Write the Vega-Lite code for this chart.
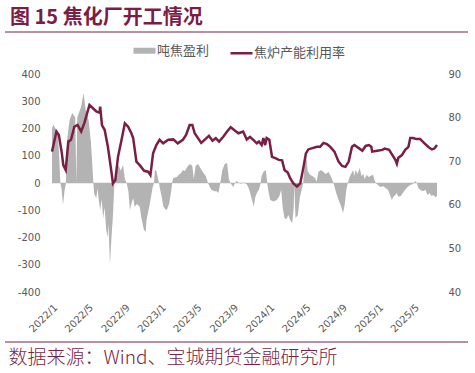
{
  "$schema": "https://vega.github.io/schema/vega-lite/v6.json",
  "autosize": {"type": "none"},
  "padding": {"left": 52, "top": 74, "right": 38, "bottom": 81},
  "width": 385,
  "height": 218,
  "background": "white",
  "config": {
    "view": {"stroke": null},
    "axisX": {"labelOverlap": false, "labelAngle": -45, "ticks": false, "tickSize": 0, "domain": false, "grid": false, "labelPadding": 10, "labelFont": "DejaVu Sans", "labelFontSize": 10, "labelColor": "#595959"},
    "axisY": {"labelOverlap": false, "ticks": false, "tickSize": 0, "domain": false, "grid": false, "labelFont": "DejaVu Sans", "labelFontSize": 10, "labelColor": "#595959"}
  },
  "title": {
    "text": "图 15 焦化厂开工情况",
    "anchor": "start",
    "frame": "group",
    "dx": -42,
    "dy": 20,
    "offset": 8,
    "font": "Noto Sans CJK SC",
    "fontSize": 20,
    "fontWeight": "bold",
    "color": "#7A1E45",
    "baseline": "alphabetic"
  },
  "datasets": {
    "profit": [
      {"d":"2022/01/01","v":200},{"d":"2022/01/06","v":215},{"d":"2022/01/14","v":195},{"d":"2022/01/20","v":190},{"d":"2022/01/25","v":100},{"d":"2022/01/29","v":0},{"d":"2022/02/02","v":-20},{"d":"2022/02/07","v":-80},{"d":"2022/02/12","v":-30},{"d":"2022/02/17","v":0},{"d":"2022/02/20","v":150},{"d":"2022/03/01","v":230},{"d":"2022/03/10","v":257},{"d":"2022/03/20","v":240},{"d":"2022/03/24","v":0},{"d":"2022/03/27","v":240},{"d":"2022/04/09","v":280},{"d":"2022/04/17","v":330},{"d":"2022/04/24","v":270},{"d":"2022/05/04","v":230},{"d":"2022/05/12","v":150},{"d":"2022/05/17","v":60},{"d":"2022/05/20","v":0},{"d":"2022/05/23","v":-40},{"d":"2022/05/30","v":-55},{"d":"2022/06/03","v":-20},{"d":"2022/06/07","v":-60},{"d":"2022/06/12","v":-100},{"d":"2022/06/17","v":-60},{"d":"2022/06/22","v":-130},{"d":"2022/06/27","v":-90},{"d":"2022/07/02","v":-170},{"d":"2022/07/07","v":-200},{"d":"2022/07/10","v":-150},{"d":"2022/07/15","v":-300},{"d":"2022/07/20","v":-200},{"d":"2022/07/25","v":-120},{"d":"2022/07/30","v":0},{"d":"2022/08/06","v":48},{"d":"2022/08/13","v":66},{"d":"2022/08/20","v":45},{"d":"2022/08/28","v":66},{"d":"2022/09/03","v":15},{"d":"2022/09/09","v":0},{"d":"2022/09/15","v":-30},{"d":"2022/09/20","v":-99},{"d":"2022/09/25","v":-77},{"d":"2022/10/01","v":-55},{"d":"2022/10/06","v":-87},{"d":"2022/10/14","v":-77},{"d":"2022/10/23","v":-87},{"d":"2022/10/28","v":-124},{"d":"2022/11/06","v":-172},{"d":"2022/11/12","v":-180},{"d":"2022/11/15","v":-136},{"d":"2022/11/26","v":-77},{"d":"2022/12/05","v":-18},{"d":"2022/12/10","v":0},{"d":"2022/12/13","v":48},{"d":"2022/12/18","v":45},{"d":"2022/12/24","v":15},{"d":"2022/12/27","v":0},{"d":"2022/12/29","v":-15},
      {"d":"2023/01/05","v":-50},{"d":"2023/01/10","v":-84},{"d":"2023/01/16","v":-95},{"d":"2023/01/22","v":-99},{"d":"2023/01/30","v":-77},{"d":"2023/02/06","v":-30},{"d":"2023/02/09","v":0},{"d":"2023/02/13","v":18},{"d":"2023/02/25","v":22},{"d":"2023/03/04","v":30},{"d":"2023/03/11","v":37},{"d":"2023/03/17","v":48},{"d":"2023/03/24","v":44},{"d":"2023/04/03","v":62},{"d":"2023/04/11","v":70},{"d":"2023/04/18","v":62},{"d":"2023/04/23","v":15},{"d":"2023/04/29","v":62},{"d":"2023/05/07","v":70},{"d":"2023/05/15","v":55},{"d":"2023/05/23","v":40},{"d":"2023/06/02","v":26},{"d":"2023/06/10","v":0},{"d":"2023/06/16","v":-15},{"d":"2023/06/21","v":-25},{"d":"2023/07/02","v":-30},{"d":"2023/07/09","v":-30},{"d":"2023/07/15","v":-37},{"d":"2023/07/21","v":0},{"d":"2023/07/28","v":48},{"d":"2023/08/05","v":70},{"d":"2023/08/13","v":73},{"d":"2023/08/19","v":15},{"d":"2023/08/24","v":0},{"d":"2023/09/03","v":-15},{"d":"2023/09/09","v":0},{"d":"2023/09/14","v":7},{"d":"2023/09/19","v":3},{"d":"2023/09/28","v":-3},{"d":"2023/10/08","v":2},{"d":"2023/10/18","v":-5},{"d":"2023/10/23","v":-15},{"d":"2023/10/28","v":-30},{"d":"2023/11/06","v":-68},{"d":"2023/11/11","v":-87},{"d":"2023/11/15","v":-55},{"d":"2023/11/21","v":-37},{"d":"2023/11/28","v":-25},{"d":"2023/12/04","v":0},{"d":"2023/12/07","v":26},{"d":"2023/12/13","v":40},{"d":"2023/12/21","v":48},{"d":"2023/12/26","v":0},{"d":"2023/12/29","v":-25},
      {"d":"2024/01/05","v":-62},{"d":"2024/01/16","v":-68},{"d":"2024/01/27","v":-62},{"d":"2024/02/05","v":-48},{"d":"2024/02/11","v":-25},{"d":"2024/02/16","v":-92},{"d":"2024/02/22","v":-128},{"d":"2024/02/28","v":-133},{"d":"2024/03/06","v":-117},{"d":"2024/03/14","v":-140},{"d":"2024/03/19","v":-147},{"d":"2024/03/24","v":-92},{"d":"2024/03/26","v":-5},{"d":"2024/03/30","v":-128},{"d":"2024/04/07","v":-117},{"d":"2024/04/14","v":-50},{"d":"2024/04/20","v":-25},{"d":"2024/04/25","v":0},{"d":"2024/04/29","v":66},{"d":"2024/05/04","v":109},{"d":"2024/05/10","v":44},{"d":"2024/05/18","v":30},{"d":"2024/05/25","v":26},{"d":"2024/06/04","v":18},{"d":"2024/06/09","v":5},{"d":"2024/06/15","v":40},{"d":"2024/06/24","v":48},{"d":"2024/07/02","v":40},{"d":"2024/07/10","v":33},{"d":"2024/07/19","v":40},{"d":"2024/07/28","v":22},{"d":"2024/08/05","v":0},{"d":"2024/08/14","v":-37},{"d":"2024/08/22","v":-62},{"d":"2024/08/30","v":-84},{"d":"2024/09/06","v":-110},{"d":"2024/09/12","v":-77},{"d":"2024/09/17","v":-25},{"d":"2024/09/22","v":0},{"d":"2024/09/28","v":22},{"d":"2024/10/03","v":33},{"d":"2024/10/10","v":48},{"d":"2024/10/14","v":26},{"d":"2024/10/18","v":48},{"d":"2024/10/25","v":33},{"d":"2024/11/01","v":55},{"d":"2024/11/07","v":26},{"d":"2024/11/13","v":33},{"d":"2024/11/18","v":15},{"d":"2024/11/24","v":30},{"d":"2024/12/01","v":22},{"d":"2024/12/07","v":26},{"d":"2024/12/16","v":30},{"d":"2024/12/21","v":10},{"d":"2024/12/25","v":0},
      {"d":"2025/01/01","v":-7},{"d":"2025/01/10","v":-15},{"d":"2025/01/19","v":-12},{"d":"2025/01/27","v":-18},{"d":"2025/02/04","v":-25},{"d":"2025/02/11","v":-44},{"d":"2025/02/17","v":-62},{"d":"2025/02/22","v":-50},{"d":"2025/03/01","v":-44},{"d":"2025/03/06","v":-37},{"d":"2025/03/11","v":-50},{"d":"2025/03/19","v":-48},{"d":"2025/03/26","v":-37},{"d":"2025/04/03","v":-25},{"d":"2025/04/11","v":-15},{"d":"2025/04/20","v":-7},{"d":"2025/04/29","v":-4},{"d":"2025/05/07","v":7},{"d":"2025/05/12","v":0},{"d":"2025/05/17","v":-18},{"d":"2025/05/23","v":-25},{"d":"2025/06/02","v":-30},{"d":"2025/06/10","v":-25},{"d":"2025/06/17","v":-44},{"d":"2025/06/24","v":-37},{"d":"2025/06/30","v":-48},{"d":"2025/07/07","v":-44},{"d":"2025/07/14","v":-52},{"d":"2025/07/19","v":-48}
    ],
    "util": [
      {"d":"2022/01/01","v":72.2},{"d":"2022/01/16","v":76.8},{"d":"2022/01/24","v":76.0},{"d":"2022/02/03","v":71.9},{"d":"2022/02/08","v":69.1},{"d":"2022/02/16","v":68.0},{"d":"2022/02/25","v":74.5},{"d":"2022/03/06","v":74.9},{"d":"2022/03/17","v":77.9},{"d":"2022/03/28","v":78.3},{"d":"2022/04/09","v":76.8},{"d":"2022/04/20","v":78.8},{"d":"2022/05/07","v":82.9},{"d":"2022/05/18","v":82.2},{"d":"2022/05/30","v":81.4},{"d":"2022/06/10","v":81.1},{"d":"2022/06/12","v":82.5},{"d":"2022/06/18","v":78.3},{"d":"2022/06/27","v":77.2},{"d":"2022/07/08","v":73.3},{"d":"2022/07/19","v":68.0},{"d":"2022/07/25","v":64.9},{"d":"2022/08/02","v":65.7},{"d":"2022/08/11","v":71.0},{"d":"2022/08/23","v":74.9},{"d":"2022/09/03","v":78.7},{"d":"2022/09/14","v":77.9},{"d":"2022/09/25","v":76.4},{"d":"2022/10/01","v":75.3},{"d":"2022/10/12","v":69.9},{"d":"2022/10/23","v":69.1},{"d":"2022/11/07","v":67.8},{"d":"2022/11/20","v":67.6},{"d":"2022/11/28","v":66.8},{"d":"2022/12/07","v":71.8},{"d":"2022/12/18","v":73.7},{"d":"2022/12/29","v":74.9},
      {"d":"2023/01/10","v":74.1},{"d":"2023/01/27","v":74.9},{"d":"2023/02/13","v":75.0},{"d":"2023/02/28","v":74.1},{"d":"2023/03/17","v":74.9},{"d":"2023/03/28","v":76.0},{"d":"2023/04/09","v":78.3},{"d":"2023/04/18","v":78.3},{"d":"2023/04/26","v":76.4},{"d":"2023/05/07","v":75.3},{"d":"2023/05/18","v":74.2},{"d":"2023/05/29","v":74.9},{"d":"2023/06/13","v":75.8},{"d":"2023/06/25","v":74.7},{"d":"2023/07/06","v":75.3},{"d":"2023/07/17","v":74.5},{"d":"2023/07/31","v":75.6},{"d":"2023/08/13","v":76.8},{"d":"2023/08/25","v":77.8},{"d":"2023/09/09","v":77.0},{"d":"2023/09/20","v":76.4},{"d":"2023/10/06","v":76.8},{"d":"2023/10/18","v":75.0},{"d":"2023/10/29","v":75.6},{"d":"2023/11/09","v":74.9},{"d":"2023/11/21","v":74.1},{"d":"2023/11/28","v":74.5},{"d":"2023/12/07","v":73.7},{"d":"2023/12/13","v":75.3},{"d":"2023/12/19","v":73.7},{"d":"2023/12/24","v":75.3},
      {"d":"2024/01/02","v":74.9},{"d":"2024/01/11","v":71.0},{"d":"2024/01/22","v":70.7},{"d":"2024/02/03","v":70.3},{"d":"2024/02/14","v":70.2},{"d":"2024/02/22","v":68.0},{"d":"2024/03/04","v":67.4},{"d":"2024/03/12","v":66.1},{"d":"2024/03/23","v":64.9},{"d":"2024/04/04","v":64.2},{"d":"2024/04/15","v":64.9},{"d":"2024/04/26","v":68.7},{"d":"2024/05/04","v":71.8},{"d":"2024/05/12","v":72.7},{"d":"2024/05/26","v":73.0},{"d":"2024/06/10","v":73.3},{"d":"2024/06/21","v":73.3},{"d":"2024/07/02","v":74.2},{"d":"2024/07/14","v":73.9},{"d":"2024/07/25","v":73.3},{"d":"2024/08/08","v":72.2},{"d":"2024/08/22","v":69.9},{"d":"2024/09/03","v":68.9},{"d":"2024/09/14","v":68.7},{"d":"2024/09/25","v":69.9},{"d":"2024/10/06","v":73.3},{"d":"2024/10/14","v":73.7},{"d":"2024/10/29","v":73.0},{"d":"2024/11/10","v":72.4},{"d":"2024/11/21","v":73.5},{"d":"2024/12/02","v":73.7},{"d":"2024/12/10","v":73.3},{"d":"2024/12/13","v":72.2},{"d":"2024/12/30","v":72.4},
      {"d":"2025/01/16","v":72.6},{"d":"2025/01/24","v":72.9},{"d":"2025/02/08","v":72.6},{"d":"2025/02/19","v":71.4},{"d":"2025/03/01","v":70.3},{"d":"2025/03/06","v":69.4},{"d":"2025/03/11","v":70.8},{"d":"2025/03/23","v":71.4},{"d":"2025/04/03","v":72.6},{"d":"2025/04/14","v":73.3},{"d":"2025/04/20","v":75.3},{"d":"2025/04/29","v":75.3},{"d":"2025/05/10","v":75.1},{"d":"2025/05/23","v":75.1},{"d":"2025/06/07","v":74.1},{"d":"2025/06/21","v":73.2},{"d":"2025/07/02","v":72.7},{"d":"2025/07/10","v":72.9},{"d":"2025/07/19","v":73.7}
    ],
    "deco": [{"k": "a"}]
  },
  "layer": [
    {
      "data": {"name": "deco"},
      "mark": {"type": "rule", "color": "#7A1E45", "strokeWidth": 1},
      "encoding": {"x": {"value": -47}, "x2": {"value": 416}, "y": {"value": -42}}
    },
    {
      "data": {"name": "deco"},
      "mark": {"type": "rule", "color": "#7A1E45", "strokeWidth": 1},
      "encoding": {"x": {"value": -47}, "x2": {"value": 416}, "y": {"value": 268}}
    },
    {
      "layer": [
        {
          "data": {"name": "deco"},
          "mark": {"type": "rule", "color": "#d9d9d9", "strokeWidth": 1},
          "encoding": {
            "y": {
              "datum": 0, "type": "quantitative",
              "axis": {
                "orient": "left",
                "values": [-400, -300, -200, -100, 0, 100, 200, 300, 400],
                "labelExpr": "'' + datum.value",
                "labelOverlap": false,
                "title": null,
                "labelPadding": 12
              }
            }
          }
        },
        {
          "data": {"name": "profit"},
          "mark": {"type": "area", "interpolate": "linear"},
          "encoding": {
            "x": {
              "field": "d", "type": "temporal",
              "scale": {"domain": [{"year": 2022, "month": 1, "date": 1}, {"year": 2025, "month": 7, "date": 19}]},
              "axis": {
                "values": [
                  {"year": 2022, "month": 1, "date": 1}, {"year": 2022, "month": 5, "date": 1}, {"year": 2022, "month": 9, "date": 1},
                  {"year": 2023, "month": 1, "date": 1}, {"year": 2023, "month": 5, "date": 1}, {"year": 2023, "month": 9, "date": 1},
                  {"year": 2024, "month": 1, "date": 1}, {"year": 2024, "month": 5, "date": 1}, {"year": 2024, "month": 9, "date": 1},
                  {"year": 2025, "month": 1, "date": 1}, {"year": 2025, "month": 5, "date": 1}
                ],
                "format": "%Y/%-m",
                "labelOverlap": false,
                "title": "数据来源：Wind、宝城期货金融研究所",
                "titleAnchor": "start",
                "titleAlign": "left",
                "titleX": -44,
                "titleY": 65,
                "titleBaseline": "middle",
                "titleFont": "Noto Sans CJK SC",
                "titleFontSize": 19,
                "titleFontWeight": 300,
                "titleColor": "#7A1E45"
              }
            },
            "y": {
              "field": "v", "type": "quantitative", "stack": null,
              "scale": {"domain": [-400, 400], "nice": false},
              "axis": {
                "orient": "left",
                "values": [-400, -300, -200, -100, 0, 100, 200, 300, 400],
                "labelExpr": "'' + datum.value",
                "labelOverlap": false,
                "title": null,
                "labelPadding": 12
              }
            },
            "color": {
              "datum": "吨焦盈利",
              "type": "nominal",
              "scale": {"domain": ["吨焦盈利", "焦炉产能利用率"], "range": ["#b3b3b3", "#7A1E45"]},
              "legend": {
                "orient": "none",
                "legendX": 86,
                "legendY": -30,
                "direction": "horizontal",
                "title": null,
                "symbolType": "stroke",
                "symbolSize": 484,
                "symbolStrokeWidth": 3,
                "labelFont": "Noto Sans CJK SC",
                "labelFontSize": 13,
                "labelColor": "#595959",
                "labelOffset": 6,
                "columnPadding": 15,
                "encode": {
                  "symbols": {
                    "update": {
                      "stroke": {"scale": "color", "field": "value"},
                      "strokeWidth": {"signal": "datum.value === '吨焦盈利' ? 6 : 2.5"}
                    }
                  }
                }
              }
            }
          }
        }
      ]
    },
    {
      "data": {"name": "util"},
      "mark": {"type": "line", "strokeWidth": 2.5, "interpolate": "linear"},
      "encoding": {
        "x": {
          "field": "d", "type": "temporal",
          "axis": {
            "values": [
              {"year": 2022, "month": 1, "date": 1}, {"year": 2022, "month": 5, "date": 1}, {"year": 2022, "month": 9, "date": 1},
              {"year": 2023, "month": 1, "date": 1}, {"year": 2023, "month": 5, "date": 1}, {"year": 2023, "month": 9, "date": 1},
              {"year": 2024, "month": 1, "date": 1}, {"year": 2024, "month": 5, "date": 1}, {"year": 2024, "month": 9, "date": 1},
              {"year": 2025, "month": 1, "date": 1}, {"year": 2025, "month": 5, "date": 1}
            ],
            "format": "%Y/%-m",
            "labelOverlap": false,
            "title": "数据来源：Wind、宝城期货金融研究所",
            "titleAnchor": "start",
            "titleAlign": "left",
            "titleX": -44,
            "titleY": 65,
            "titleBaseline": "middle",
            "titleFont": "Noto Sans CJK SC",
            "titleFontSize": 19,
            "titleFontWeight": 300,
            "titleColor": "#7A1E45"
          }
        },
        "y": {
          "field": "v", "type": "quantitative",
          "scale": {"domain": [40, 90], "nice": false, "zero": false},
          "axis": {
            "orient": "right",
            "values": [40, 50, 60, 70, 80, 90],
            "labelOverlap": false,
            "title": null,
            "labelPadding": 11
          }
        },
        "color": {"datum": "焦炉产能利用率", "type": "nominal"}
      }
    }
  ],
  "resolve": {"scale": {"y": "independent"}}
}
